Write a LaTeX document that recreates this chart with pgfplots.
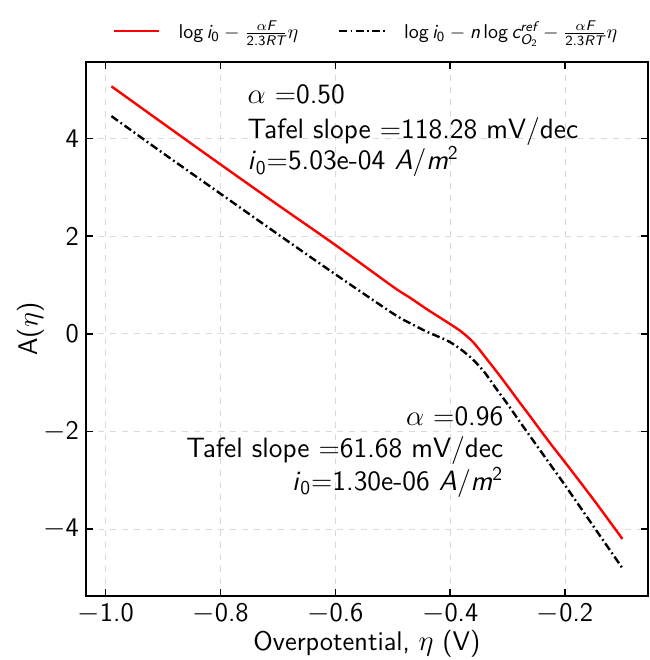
\documentclass[border=0pt]{standalone}
\usepackage{fontspec}
\usepackage{amsmath}
\usepackage{pgfplots}
\pgfplotsset{compat=1.18}
\renewcommand{\familydefault}{\sfdefault}

% sans letters inside math, greek stays as is
\newcommand{\si}[1]{\text{\itshape #1}}
\newcommand{\su}[1]{\text{#1}}

\pgfplotstableread{
x      y
-0.99  5.07
-0.90  4.31
-0.80  3.47
-0.70  2.64
-0.60  1.82
-0.50  0.97
-0.47  0.74
-0.44  0.50
-0.42  0.35
-0.40  0.20
-0.38  0.04
-0.36 -0.17
-0.34 -0.46
-0.32 -0.76
-0.30 -1.07
-0.28 -1.39
-0.26 -1.70
-0.24 -2.02
-0.22 -2.33
-0.20 -2.63
-0.15 -3.40
-0.10 -4.20
}\redcurve

\pgfplotstableread{
x      y
-0.99  4.46
-0.90  3.70
-0.80  2.87
-0.70  2.04
-0.60  1.22
-0.50  0.42
-0.47  0.22
-0.44  0.04
-0.42 -0.06
-0.40 -0.17
-0.38 -0.33
-0.36 -0.53
-0.34 -0.79
-0.32 -1.12
-0.30 -1.44
-0.28 -1.78
-0.26 -2.11
-0.24 -2.44
-0.22 -2.77
-0.20 -3.10
-0.15 -3.95
-0.10 -4.80
}\blackcurve

\begin{document}
\begin{tikzpicture}
\begin{axis}[
  name=ax,
  width=281.5pt, height=267.5pt,
  scale only axis,
  xmin=-1.0345, xmax=-0.0555,
  ymin=-5.37, ymax=5.57,
  axis line style={line width=0.9pt},
  tick style={line width=0.8pt, black},
  major tick length=3.5pt,
  tick align=inside,
  xtick pos=both, ytick pos=both,
  xtick={-1,-0.8,-0.6,-0.4,-0.2},
  xticklabels={$-$1.0,$-$0.8,$-$0.6,$-$0.4,$-$0.2},
  ytick={-4,-2,0,2,4},
  yticklabels={$-$4,$-$2,0,2,4},
  ticklabel style={font=\fontsize{13.5}{16}\selectfont},
  grid=major,
  grid style={dashed, gray!30, line width=0.5pt},
  xlabel={Overpotential, $\eta$ (V)},
  ylabel={A($\eta$)},
  label style={font=\fontsize{13.5}{16}\selectfont},
  xlabel style={at={(axis description cs:0.5,-0.09)}, anchor=center},
  ylabel style={at={(axis description cs:-0.098,0.5)}, anchor=center},
  legend style={at={(axis description cs:0.5,1)}, anchor=south, yshift=6pt,
    draw=none, fill=none, legend columns=2,
    font=\fontsize{10}{12}\selectfont,
    /tikz/every odd column/.append style={column sep=7pt},
    /tikz/every even column/.append style={column sep=18pt}},
  legend image code/.code={\draw[#1] (0cm,0cm) -- (0.8cm,0cm);},
]
\addplot[red, line width=1.2pt, smooth, tension=0.5] table[x=x, y=y] {\redcurve};
\addlegendentry{$\su{log}\,\si{i}_{\su{0}} - \frac{\alpha\si{F}}{\su{2.3}\si{RT}}\eta$}
\addplot[black, line width=1.2pt, smooth, tension=0.5,
  dash pattern=on 4pt off 1.6pt on 0.9pt off 1.6pt] table[x=x, y=y] {\blackcurve};
\addlegendentry{$\su{log}\,\si{i}_{\su{0}} - \si{n}\,\su{log}\,\si{c}^{\si{ref}}_{\si{O}_{\su{2}}} - \frac{\alpha\si{F}}{\su{2.3}\si{RT}}\eta$}

\node[anchor=base west, font=\fontsize{14}{17}\selectfont, inner sep=0pt] at (axis cs:-0.7535,4.72) {$\alpha$ =0.50};
\node[anchor=base west, font=\fontsize{14}{17}\selectfont, inner sep=0pt] at (axis cs:-0.7535,4.0) {Tafel slope =118.28 mV/dec};
\node[anchor=base west, font=\fontsize{14}{17}\selectfont, inner sep=0pt] at (axis cs:-0.7535,3.36) {\textit{i}$_{\text{0}}$=5.03e-04 \textit{A}/\textit{m}$^{\text{2}}$};

\node[anchor=base east, font=\fontsize{14}{17}\selectfont, inner sep=0pt] at (axis cs:-0.307,-1.88) {$\alpha$ =0.96};
\node[anchor=base east, font=\fontsize{14}{17}\selectfont, inner sep=0pt] at (axis cs:-0.307,-2.54) {Tafel slope =61.68 mV/dec};
\node[anchor=base east, font=\fontsize{14}{17}\selectfont, inner sep=0pt] at (axis cs:-0.307,-3.21) {\textit{i}$_{\text{0}}$=1.30e-06 \textit{A}/\textit{m}$^{\text{2}}$};
\end{axis}
\pgfresetboundingbox
\path[use as bounding box] ([xshift=-43pt,yshift=-32pt]ax.south west) rectangle ([xshift=0.5pt,yshift=31pt]ax.north east);
\end{tikzpicture}
\end{document}
